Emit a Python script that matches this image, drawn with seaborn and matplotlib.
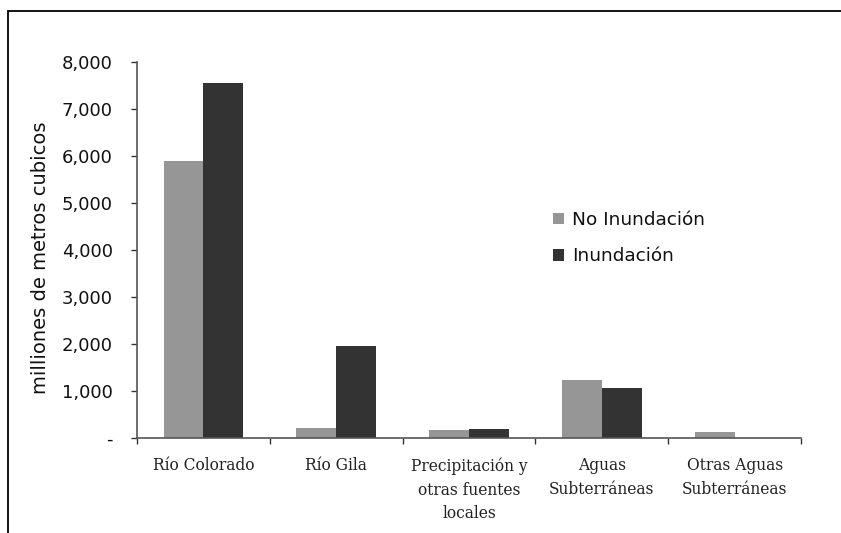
import matplotlib
matplotlib.use("Agg")
import matplotlib.pyplot as plt
import matplotlib.patches as mpatches
from matplotlib.ticker import FixedLocator, FuncFormatter
import seaborn as sns
import pandas as pd

# Water sources (millions of cubic metres)
categories = ["Río Colorado", "Río Gila", "Precipitación y\notras fuentes\nlocales",
              "Aguas\nSubterráneas", "Otras Aguas\nSubterráneas"]
no_inundacion = [5900, 210, 170, 1230, 130]
inundacion = [7550, 1950, 200, 1060, 0]
series_names = ["No Inundación", "Inundación"]
y_ticks = [0, 1000, 2000, 3000, 4000, 5000, 6000, 7000, 8000]

df = pd.DataFrame({
    "fuente": categories * 2,
    "valor": no_inundacion + inundacion,
    "escenario": [series_names[0]] * len(categories) + [series_names[1]] * len(categories),
})

sns.set_theme(style="white")
plt.rcParams["font.family"] = ["DejaVu Sans"]

W, H = 841, 533
fig = plt.figure(figsize=(W / 100, H / 100), dpi=100)
ax = fig.add_axes([137 / W, 1 - 438 / H, (801 - 137) / W, (438 - 62) / H])

sns.barplot(data=df, x="fuente", y="valor", hue="escenario", order=categories,
            hue_order=series_names, palette=["#969696", "#333333"],
            width=0.6, gap=0, ax=ax, edgecolor="none", linewidth=0, saturation=1)

ax.set_xlim(-0.5, len(categories) - 0.5)
ax.set_ylim(0, 8000)

# Axes styling
for side in ("top", "right"):
    ax.spines[side].set_visible(False)
for side in ("left", "bottom"):
    ax.spines[side].set_color("#555555")
    ax.spines[side].set_linewidth(1.2)

ax.yaxis.set_major_locator(FixedLocator(y_ticks))
ax.yaxis.set_major_formatter(FuncFormatter(lambda v, p: "-" if v == 0 else f"{int(v):,}"))
ax.tick_params(axis="y", which="major", direction="out", length=4.5, width=1.0,
               color="#333333", pad=13, labelsize=13, labelcolor="#111111", left=True)

# Category labels centred, tick marks between categories
ax.set_xticks(range(len(categories)))
ax.set_xticklabels(categories, fontfamily="DejaVu Serif", fontsize=11.2,
                   linespacing=1.52, color="#222222")
ax.tick_params(axis="x", which="major", length=0, pad=14)
ax.xaxis.set_minor_locator(FixedLocator([i - 0.5 for i in range(len(categories) + 1)]))
ax.tick_params(axis="x", which="minor", direction="out", length=4.5, width=1.0,
               color="#333333", bottom=True)

ax.set_xlabel("")
ax.set_ylabel("milliones de metros cubicos", fontsize=14, color="#111111", labelpad=10)
ax.yaxis.set_label_coords(-0.131, 0.48)

leg = ax.legend(loc="upper left", bbox_to_anchor=(553 / W, 1 - 211 / H),
                bbox_transform=fig.transFigure, frameon=False, fontsize=13.3,
                handlelength=0.6, handleheight=0.6, handletextpad=0.45,
                labelspacing=0.99, borderpad=0, borderaxespad=0)
for t in leg.get_texts():
    t.set_color("#111111")

# Outer frame around the chart area
fig.patches.append(mpatches.Rectangle((8 / W, -0.2), 1.5, 1.2 - 11 / H, fill=False,
                                      edgecolor="black", linewidth=1.3,
                                      transform=fig.transFigure, figure=fig))

fig.savefig("out.png", dpi=100)
